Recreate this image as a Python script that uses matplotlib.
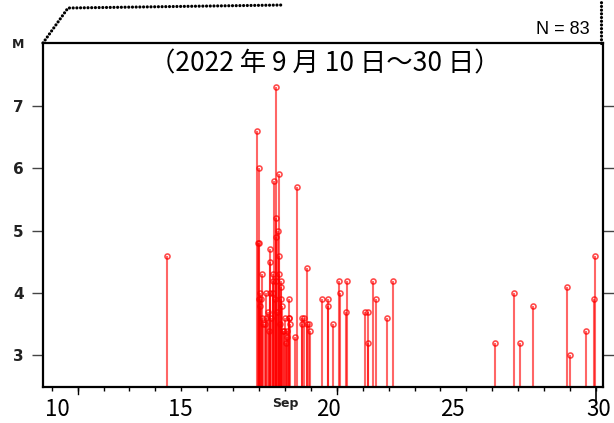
import matplotlib
matplotlib.use("Agg")
import matplotlib.pyplot as plt
from matplotlib.lines import Line2D
import matplotlib.transforms as mtransforms

# Day of September (JST, fractional) and magnitude
days = [14.44,
        17.93, 17.99, 17.96, 18.64, 18.56, 18.77, 18.64, 18.72, 18.78, 18.66,
        18.43, 18.43, 18.11, 18.52, 18.76, 18.55, 18.65, 18.83, 18.85, 18.04,
        18.28, 18.43, 18.55, 18.08, 17.98, 18.86, 19.14, 18.90, 18.33, 18.12,
        18.28, 19.00, 19.14, 19.17, 18.22, 19.20, 18.93, 19.06, 19.06, 19.05,
        19.39, 19.45,
        18.00, 18.02, 18.15, 18.38, 18.47, 18.60, 18.70, 18.81, 18.95,
        19.84, 19.64, 19.74, 19.64, 19.84, 19.93, 19.95, 20.42, 20.65, 20.65,
        20.87, 21.08, 21.14, 21.41, 21.34, 22.09, 22.19, 22.19, 22.41, 22.52,
        22.95, 23.15,
        27.10, 27.82, 28.07, 28.58, 29.88, 30.00, 30.60, 30.91, 30.96]
mags = [4.6,
        6.6, 6.0, 4.8, 7.3, 5.8, 5.9, 5.2, 5.0, 4.6, 4.9,
        4.7, 4.5, 4.3, 4.3, 4.3, 4.2, 4.2, 4.2, 4.1, 4.0,
        4.0, 4.0, 4.0, 3.9, 3.9, 3.9, 3.9, 3.8, 3.7, 3.6,
        3.6, 3.6, 3.6, 3.6, 3.5, 3.5, 3.4, 3.4, 3.3, 3.2,
        3.3, 5.7,
        4.8, 3.8, 3.5, 3.4, 3.6, 3.9, 3.7, 3.5, 3.4,
        4.4, 3.6, 3.6, 3.5, 3.5, 3.5, 3.4, 3.9, 3.9, 3.8,
        3.5, 4.2, 4.0, 4.2, 3.7, 3.7, 3.7, 3.2, 4.2, 3.9,
        3.6, 4.2,
        3.2, 4.0, 3.2, 3.8, 4.1, 3.0, 3.4, 3.9, 4.6]

yticks = [3, 4, 5, 6, 7]
xlabels = ["10", "15", "20", "25", "30"]
xlabel_pos = [10.2, 14.95, 20.66, 25.45, 31.12]
day_ticks = list(range(10, 32))
long_ticks = [11, 21]
title = "（2022 年 9 月 10 日～30 日）"
count_text = "N = 83"

W, H = 614, 423
fig = plt.figure(figsize=(W / 100, H / 100), dpi=100)
ax = fig.add_axes([43 / W, 1 - 386.7 / H, 560 / W, (386.7 - 43.3) / H])
ax.set_xlim(9.664, 31.27)
ax.set_ylim(2.5, 8.0)

ymin = 2.5
ax.vlines(days, ymin, mags, colors="red", alpha=0.6, linewidth=1.5, zorder=2)
ax.plot(days, mags, linestyle="none", marker="o", markersize=3.6,
        markerfacecolor="none", markeredgecolor="red", markeredgewidth=1.2,
        alpha=0.7, zorder=3)

for s in ax.spines.values():
    s.set_linewidth(1.6)
    s.set_color("black")

# y ticks both sides, outward
ax.set_yticks(yticks)
ax.set_yticklabels([str(v) for v in yticks], fontsize=11, fontweight="bold",
                   color="#222222")
ax.tick_params(axis="y", direction="out", length=8, width=1.0, color="#444444",
               left=True, right=True, labelright=False, pad=6)

# x ticks: day boundaries (minor), labels (major, no tick line)
ax.set_xticks(day_ticks, minor=True)
ax.tick_params(axis="x", which="minor", direction="out", length=3, width=1.0,
               color="black")
ax.set_xticks(xlabel_pos)
ax.set_xticklabels(xlabels, fontsize=16, family=["Noto Sans CJK JP"])
ax.tick_params(axis="x", which="major", length=0, pad=8)

trans = mtransforms.blended_transform_factory(ax.transData, ax.transAxes)
for t in long_ticks:
    ax.add_line(Line2D([t, t], [0, -0.02], transform=trans, color="black",
                       linewidth=1.0, clip_on=False))
ax.add_line(Line2D([31, 31], [0, -0.045], transform=trans, color="black",
                   linewidth=1.2, clip_on=False))

fig.text(285 / W, 1 - 403 / H, "Sep", fontsize=9, fontweight="bold",
         ha="center", va="center", color="#222222")
fig.text(18 / W, 1 - 45 / H, "M", fontsize=9, fontweight="bold",
         ha="center", va="center", color="#222222")
fig.text(325 / W, 1 - 64 / H, title, fontsize=19, ha="center", va="center",
         family=["Noto Sans CJK JP", "DejaVu Sans"])
fig.text(590 / W, 1 - 30 / H, count_text, fontsize=13, ha="right",
         va="center", family=["Liberation Sans"])

# dotted connector lines from the parent figure
dot = (0, (0.01, 1.15))
fig.add_artist(Line2D([43 / W, 68 / W, 283 / W], [1 - 43 / H, 1 - 8 / H, 1 - 5 / H],
                      transform=fig.transFigure, color="black", linewidth=2.3,
                      linestyle=dot, dash_capstyle="round"))
fig.add_artist(Line2D([601 / W, 601 / W], [1 - 43 / H, 1.0],
                      transform=fig.transFigure, color="black", linewidth=2.3,
                      linestyle=dot, dash_capstyle="round"))

fig.savefig("out.png", dpi=100)
